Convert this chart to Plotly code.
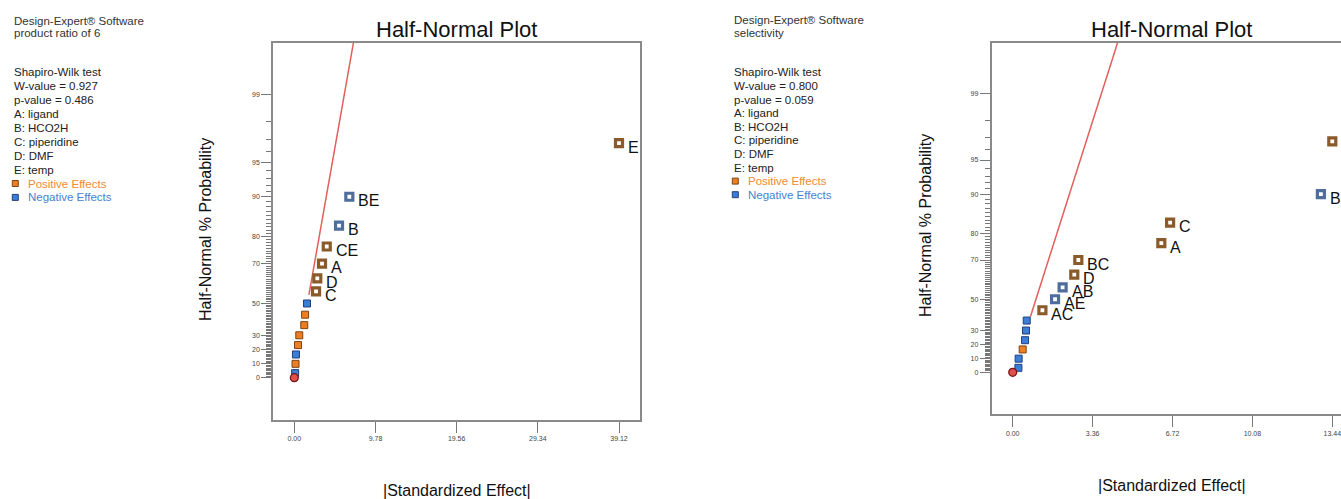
from statistics import NormalDist
import plotly.graph_objects as go

# ---------------- data ----------------
# Left panel: product ratio of 6
left_effect = [0.10, 0.15, 0.20, 0.45, 0.60, 1.20, 1.30, 1.53, 2.62, 2.77, 3.34, 3.91, 5.39, 6.63, 39.12]
left_prob = [3.3, 10.0, 16.7, 23.3, 30.0, 36.7, 43.3, 50.0, 56.7, 63.3, 70.0, 76.7, 83.3, 90.0, 96.7]
left_sign = ['-', '+', '-', '+', '+', '+', '+', '-', '+', '+', '+', '+', '-', '-', '+']
left_label = ['', '', '', '', '', '', '', '', 'C', 'D', 'A', 'CE', 'B', 'BE', 'E']
left_error_effect = [0.0]
left_error_prob = [0.0]
left_line_effect = [1.76, 7.70]
left_line_prob = [54.8, 99.9]
left_xticks = [0.00, 9.78, 19.56, 29.34, 39.12]
left_xrange = [-2.53, 41.65]
left_info = ["Design-Expert\u00ae Software", "product ratio of 6", "",
             "Shapiro-Wilk test", "W-value = 0.927", "p-value = 0.486"]

# Right panel: selectivity
right_effect = [0.24, 0.25, 0.42, 0.52, 0.56, 0.59, 1.25, 1.78, 2.10, 2.59, 2.76, 6.25, 6.62, 12.96, 13.44]
right_prob = [3.3, 10.0, 16.7, 23.3, 30.0, 36.7, 43.3, 50.0, 56.7, 63.3, 70.0, 76.7, 83.3, 90.0, 96.7]
right_sign = ['-', '-', '+', '-', '-', '-', '+', '-', '-', '+', '+', '+', '+', '-', '+']
right_label = ['', '', '', '', '', '', 'AC', 'AE', 'AB', 'D', 'BC', 'A', 'C', 'B', 'E']
right_error_effect = [0.0]
right_error_prob = [0.0]
right_line_effect = [0.745, 4.77]
right_line_prob = [39.2, 99.9]
right_xticks = [0.00, 3.36, 6.72, 10.08, 13.44]
right_xrange = [-0.883, 13.806]
right_info = ["Design-Expert\u00ae Software", "selectivity", "",
              "Shapiro-Wilk test", "W-value = 0.800", "p-value = 0.059"]

factor_names = ["A: ligand", "B: HCO2H", "C: piperidine", "D: DMF", "E: temp"]

y_major = [0, 10, 20, 30, 50, 70, 80, 90, 95, 99]
y_minor = [p for p in range(1, 99) if p not in y_major]

# ---------------- helpers ----------------
W, H = 1341, 499
ND = NormalDist()


def hz(p):
    """half-normal quantile of a percent probability"""
    return ND.inv_cdf(0.5 + p / 200.0)


FONT = "Liberation Sans, Arial, sans-serif"
POS_HOLLOW = "#8B5A2B"
NEG_HOLLOW = "#4F6E9E"
POS_FILL = "#EE7E22"
POS_EDGE = "#7A4618"
NEG_FILL = "#3A7ED6"
NEG_EDGE = "#223F7C"

fig = go.Figure()


def add_panel(xa, ya, eff, prob, sign, label, e_eff, e_prob, l_eff, l_prob):
    xs = "x" if xa == 1 else "x%d" % xa
    ys = "y" if ya == 1 else "y%d" % ya
    # red fitted line
    fig.add_trace(go.Scatter(x=l_eff, y=[hz(p) for p in l_prob], mode="lines",
                             line=dict(color="#E2605C", width=1.5),
                             xaxis=xs, yaxis=ys, showlegend=False, hoverinfo="skip"))
    groups = [
        ('+', False, dict(symbol="square", size=7, color=POS_FILL, line=dict(color=POS_EDGE, width=1))),
        ('-', False, dict(symbol="square", size=7, color=NEG_FILL, line=dict(color=NEG_EDGE, width=1))),
        ('+', True, dict(symbol="square", size=7, color="white", line=dict(color=POS_HOLLOW, width=3.2))),
        ('-', True, dict(symbol="square", size=7, color="white", line=dict(color=NEG_HOLLOW, width=3.2))),
    ]
    for sg, lab, mk in groups:
        gx = [e for e, s, l in zip(eff, sign, label) if s == sg and (l != '') == lab]
        gy = [hz(p) for p, s, l in zip(prob, sign, label) if s == sg and (l != '') == lab]
        fig.add_trace(go.Scatter(x=gx, y=gy, mode="markers", marker=mk, cliponaxis=False,
                                 xaxis=xs, yaxis=ys, showlegend=False))
    # error estimate (circle)
    fig.add_trace(go.Scatter(x=e_eff, y=[hz(p) for p in e_prob], mode="markers",
                             marker=dict(symbol="circle", size=8, color="#E0504E",
                                         line=dict(color="#7A1414", width=1.2)),
                             cliponaxis=False, xaxis=xs, yaxis=ys, showlegend=False))
    # point labels
    for e, p, l in zip(eff, prob, label):
        if l:
            fig.add_annotation(x=e, y=hz(p), xref=xs, yref=ys, text=l, showarrow=False,
                               xanchor="left", yanchor="middle", xshift=7, yshift=-4,
                               font=dict(family=FONT, size=16, color="#111"))


add_panel(1, 1, left_effect, left_prob, left_sign, left_label,
          left_error_effect, left_error_prob, left_line_effect, left_line_prob)
add_panel(2, 2, right_effect, right_prob, right_sign, right_label,
          right_error_effect, right_error_prob, right_line_effect, right_line_prob)


def px_x(x):
    return x / W


def px_y(y):
    return 1 - y / H


axis_common = dict(showgrid=False, zeroline=False, showline=True, linecolor="#8A8A8A",
                   linewidth=2, ticks="outside", tickcolor="#777", tickwidth=1,
                   ticklabeloverflow="allow",
                   tickfont=dict(family=FONT, size=7, color="#444"))

ytickvals = [hz(p) for p in y_major]
ytext = [str(p) for p in y_major]
yminor = dict(tickvals=[hz(p) for p in y_minor], ticklen=5, tickcolor="#777",
              tickwidth=1, ticks="outside", showgrid=False)

fig.update_layout(
    width=W, height=H, margin=dict(l=0, r=0, t=0, b=0),
    paper_bgcolor="white", plot_bgcolor="white", showlegend=False,
    xaxis=dict(domain=[px_x(273.3), px_x(640)], range=left_xrange, tickmode="array",
               tickvals=left_xticks, ticktext=["%.2f" % v for v in left_xticks],
               ticklen=11, mirror=True, anchor="y", **axis_common),
    yaxis=dict(domain=[px_y(420), px_y(43)], range=[-0.385, 3.043], tickmode="array",
               tickvals=ytickvals, ticktext=ytext, ticklen=10, minor=yminor,
               mirror=True, anchor="x", **axis_common),
    xaxis2=dict(domain=[px_x(991.7), 1.0], range=right_xrange, tickmode="array",
                tickvals=right_xticks, ticktext=["%.2f" % v for v in right_xticks],
                ticklen=11, mirror=True, anchor="y2", **axis_common),
    yaxis2=dict(domain=[px_y(414.3), px_y(42.7)], range=[-0.388, 3.043], tickmode="array",
                tickvals=ytickvals, ticktext=ytext, ticklen=10, minor=yminor,
                mirror=False, anchor="x2", **axis_common),
)


def ann(text, x, y, size, color="#222", xanchor="left", angle=0):
    fig.add_annotation(text=text, x=px_x(x), y=px_y(y), xref="paper", yref="paper",
                       showarrow=False, xanchor=xanchor, yanchor="middle", textangle=angle,
                       font=dict(family=FONT, size=size, color=color))


# titles / axis titles
for cx, ty, yx, yy, xy in [(456.7, 30, 205, 230, 490), (1171.7, 30, 925, 226, 485)]:
    ann("Half-Normal Plot", cx, ty, 22, "#111", "center")
    ann("Half-Normal % Probability", yx, yy, 16, "#111", "center", -90)
    ann("|Standardized Effect|", cx, xy, 16, "#111", "center")

# side info text blocks
for info, x0, head_ys, y_start, step in [(left_info, 11.7, [20.7, 33.3], 72.3, 13.9),
                                          (right_info, 731.7, [20.0, 33.3], 72.3, 13.6)]:
    ann(info[0], x0, head_ys[0], 11.5, "#333")
    ann(info[1], x0, head_ys[1], 11.5, "#333")
    lines = info[3:] + factor_names
    for i, t in enumerate(lines):
        ann(t, x0, y_start + i * step, 11.5, "#222")
    ypos = y_start + len(lines) * step
    yneg = ypos + step
    ann("Positive Effects", x0 + 14.5, ypos, 11.5, "#EE8A35")
    ann("Negative Effects", x0 + 14.5, yneg, 11.5, "#4A80D0")
    for yy, fc, ec in [(ypos, POS_FILL, POS_EDGE), (yneg, NEG_FILL, NEG_EDGE)]:
        cx = x0 + 3.6
        fig.add_shape(type="rect", xref="paper", yref="paper",
                      x0=px_x(cx - 3), x1=px_x(cx + 3), y0=px_y(yy + 3), y1=px_y(yy - 3),
                      fillcolor=fc, line=dict(color=ec, width=1))

fig.write_html("out.html", config={"displayModeBar": False},
               post_script="document.body.style.margin='0';"
                           "document.body.style.overflow='hidden';")
